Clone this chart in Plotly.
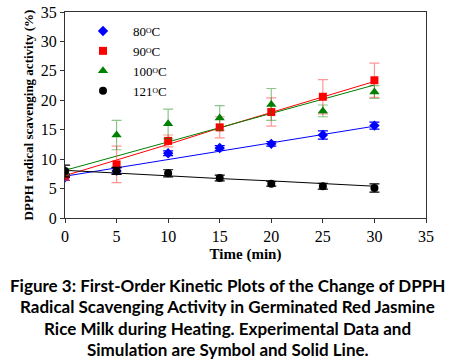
import plotly.graph_objects as go

time = [0, 5, 10, 15, 20, 25, 30]
series_names = ["80\u1d3cC", "90\u1d3cC", "100\u1d3cC", "121\u1d3cC"]

y80 = [6.9, 8.0, 11.0, 11.9, 12.6, 14.1, 15.7]
e80 = [0.5, 0.5, 0.4, 0.4, 0.4, 0.7, 0.6]
y90 = [7.2, 9.1, 13.1, 15.4, 18.0, 20.6, 23.4]
e90 = [0.8, 3.1, 1.0, 1.8, 2.4, 2.9, 2.9]
y100 = [7.8, 14.1, 16.0, 17.0, 19.3, 18.2, 21.4]
e100 = [0.6, 2.5, 2.5, 2.1, 2.7, 1.0, 1.1]
y121 = [8.0, 8.0, 7.6, 6.8, 5.8, 5.4, 5.1]
e121 = [1.0, 0.6, 0.6, 0.5, 0.4, 0.5, 0.7]

fit80 = [7.1, 8.5, 9.9, 11.3, 12.7, 14.1, 15.6]
fit90 = [7.2, 9.8, 12.5, 15.3, 17.9, 20.5, 23.2]
fit100 = [8.1, 10.5, 12.9, 15.4, 17.8, 20.2, 22.6]
fit121 = [8.1, 7.6, 7.2, 6.7, 6.3, 5.8, 5.4]

xticks = [0, 5, 10, 15, 20, 25, 30, 35]
yticks = [0, 5, 10, 15, 20, 25, 30, 35]

caption = ["Figure 3: First-Order Kinetic Plots of the Change of DPPH",
           "Radical Scavenging Activity in Germinated Red Jasmine",
           "Rice Milk during Heating. Experimental Data and",
           "Simulation are Symbol and Solid Line."]

colors = ["#0000ff", "#ff0000", "#008000", "#000000"]
err_colors = ["#0000ff", "rgba(255,80,80,0.6)", "rgba(0,128,0,0.45)", "#000000"]
symbols = ["diamond", "square", "triangle-up", "circle"]
sizes = [8, 8, 9, 8]

fig = go.Figure()
fits = [fit80, fit90, fit100, fit121]
for f, c in zip(fits, colors):
    fig.add_trace(go.Scatter(x=time, y=f, mode="lines", line=dict(color=c, width=1),
                             showlegend=False, hoverinfo="skip"))

data = [(y80, e80), (y90, e90), (y100, e100), (y121, e121)]
for (yy, ee), name, c, ec, s, sz in zip(data, series_names, colors, err_colors, symbols, sizes):
    fig.add_trace(go.Scatter(x=time, y=yy, mode="markers", name=name,
                             marker=dict(color=c, symbol=s, size=sz),
                             error_y=dict(type="data", array=ee, visible=True,
                                          color=ec, thickness=1.2, width=5)))

serif = "Liberation Serif, Times New Roman, serif"
fig.update_layout(
    width=455, height=360,
    margin=dict(l=65, r=29, t=12, b=142, autoexpand=False),
    paper_bgcolor="white", plot_bgcolor="white",
    font=dict(family=serif, size=15, color="black"),
    showlegend=True,
    legend=dict(x=(73 - 65) / 361, y=(218 - 16) / 206, xanchor="left", yanchor="top",
                font=dict(family=serif, size=13), bgcolor="rgba(0,0,0,0)",
                tracegroupgap=0, itemwidth=50),
    xaxis=dict(range=[0, 35], tickvals=xticks, showgrid=False, zeroline=False,
               showline=True, linecolor="#333", linewidth=1, mirror=True,
               ticks="outside", ticklen=4, tickcolor="#333", automargin=False,
               tickfont=dict(family=serif, size=16),
               title=dict(text="<b>Time (min)</b>", font=dict(family=serif, size=15), standoff=4)),
    yaxis=dict(range=[0, 35], tickvals=yticks, showgrid=False, zeroline=False,
               showline=True, linecolor="#333", linewidth=1, mirror=True,
               ticks="outside", ticklen=4, tickcolor="#333", automargin=False,
               tickfont=dict(family=serif, size=16),
               title=dict(text="<b>DPPH radical scavenging activity (%)</b>",
                          font=dict(family=serif, size=13), standoff=4)),
)

ys = [285, 306, 328, 349]
for line, yp in zip(caption, ys):
    fig.add_annotation(text="<b>" + line + "</b>", xref="paper", yref="paper",
                       x=(227.5 - 65) / 361, y=(218 - yp) / 206, showarrow=False,
                       xanchor="center", yanchor="middle",
                       font=dict(family="Lato, Open Sans, sans-serif", size=17, color="black"))

fig.write_html("out.html", config={"displayModeBar": False},
               post_script="document.body.style.margin='0';document.body.style.overflow='hidden';")
